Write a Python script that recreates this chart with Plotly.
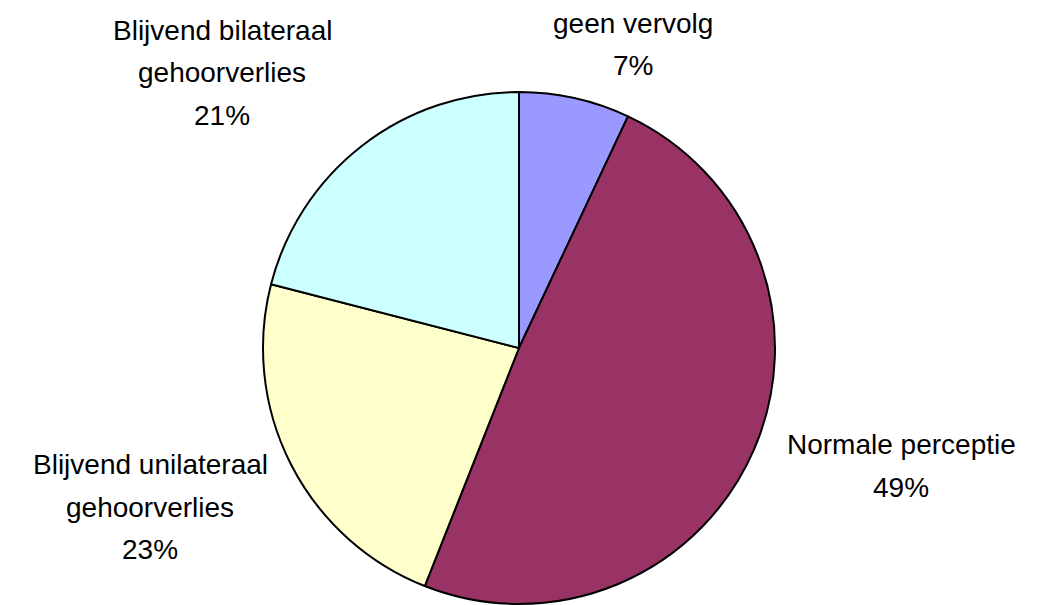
import plotly.graph_objects as go

# slices, clockwise from 12 o'clock
labels = ["geen vervolg", "Normale perceptie",
          "Blijvend unilateraal<br>gehoorverlies", "Blijvend bilateraal<br>gehoorverlies"]
values = [7, 49, 23, 21]
colors = ["#9999FF", "#993366", "#FFFFCC", "#CCFFFF"]

W, H = 1039, 605
off = 8  # page body margin
cx, cy, r = 519 - off, 348 - off, 256

fig = go.Figure(go.Pie(
    labels=labels, values=values, sort=False, direction="clockwise", rotation=0,
    marker=dict(colors=colors, line=dict(color="black", width=2)),
    textinfo="none", hoverinfo="label+percent",
    domain=dict(x=[(cx - r) / W, (cx + r) / W], y=[(H - cy - r) / H, (H - cy + r) / H]),
))

# label block centres (pixels in the page, top-left origin) and line spacing
label_pos = [(633, 23), (901, 445), (150, 465), (222, 31)]
line_gap = 42

total = sum(values)
annotations = []
for lab, val, (x, y) in zip(labels, values, label_pos):
    lines = lab.split("<br>") + [f"{round(100 * val / total)}%"]
    for i, line in enumerate(lines):
        annotations.append(dict(
            x=(x - off) / W, y=1 - (y - off + i * line_gap) / H, xref="paper", yref="paper",
            text=line, showarrow=False, xanchor="center", yanchor="middle",
            font=dict(family="Liberation Sans, Arial", size=28, color="black"),
        ))

fig.update_layout(
    width=W, height=H, margin=dict(l=0, r=0, t=0, b=0),
    paper_bgcolor="white", plot_bgcolor="white", showlegend=False,
    annotations=annotations,
)

fig.write_html("out.html")
